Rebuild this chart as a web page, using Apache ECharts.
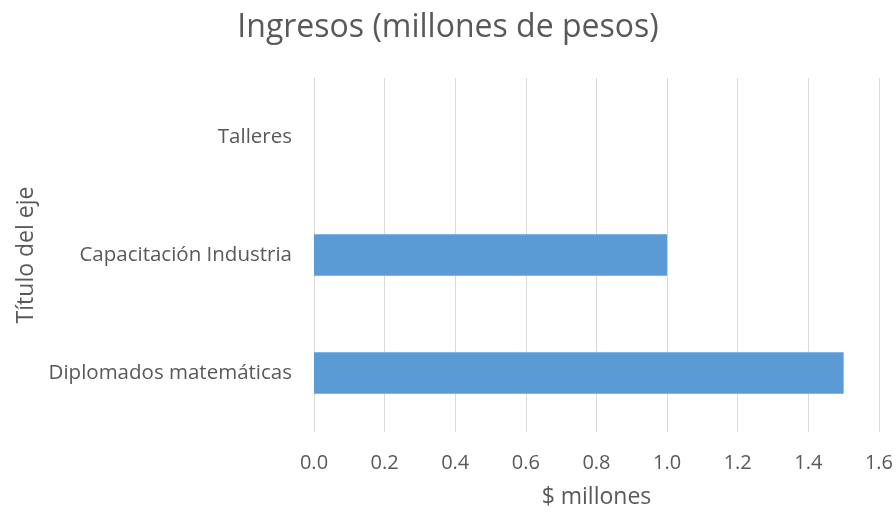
<!DOCTYPE html>
<html><head><meta charset="utf-8">
<script src="https://cdn.jsdelivr.net/npm/echarts@6/dist/echarts.min.js"></script>
<style>html,body{margin:0;padding:0;background:#fff}#c{width:896px;height:516px}</style>
</head><body><div id="c"></div>
<script>
const categories = ["Diplomados matemáticas", "Capacitación Industria", "Talleres"];
const values = [1.5, 1.0, 0];
const seriesName = "Ingresos";
const chartTitle = "Ingresos (millones de pesos)";
const xAxisTitle = "$ millones";
const yAxisTitle = "Título del eje";

const font = "'Open Sans', Lato, sans-serif";
const chart = echarts.init(document.getElementById('c'), null, {renderer:'canvas'});
chart.setOption({
  animation:false,
  backgroundColor:'#fff',
  title:{text:chartTitle,left:'center',top:7,textStyle:{fontFamily:font,fontSize:32,fontWeight:'normal',color:'#595959'}},
  grid:{left:314,right:17,top:78,bottom:84,containLabel:false},
  xAxis:{type:'value',min:0,max:1.6,interval:0.2,
    name:xAxisTitle,nameLocation:'middle',nameGap:54,
    nameTextStyle:{fontFamily:font,fontSize:23,color:'#595959'},
    axisLine:{show:false},axisTick:{show:false},
    axisLabel:{margin:21,fontFamily:font,fontSize:20,color:'#595959',formatter:v=>v.toFixed(1)},
    splitLine:{lineStyle:{color:'#d9d9d9',width:1}}},
  yAxis:{type:'category',data:categories,
    name:yAxisTitle,nameLocation:'middle',nameGap:272,nameRotate:90,
    nameTextStyle:{fontFamily:font,fontSize:23,color:'#595959'},
    axisLine:{show:true,lineStyle:{color:'#d9d9d9'}},axisTick:{show:false},
    axisLabel:{margin:22,fontFamily:font,fontSize:20.5,color:'#595959'}},
  series:[{name:seriesName,type:'bar',data:values,barWidth:'35%',itemStyle:{color:'#5B9BD5'}}]
});
</script></body></html>
